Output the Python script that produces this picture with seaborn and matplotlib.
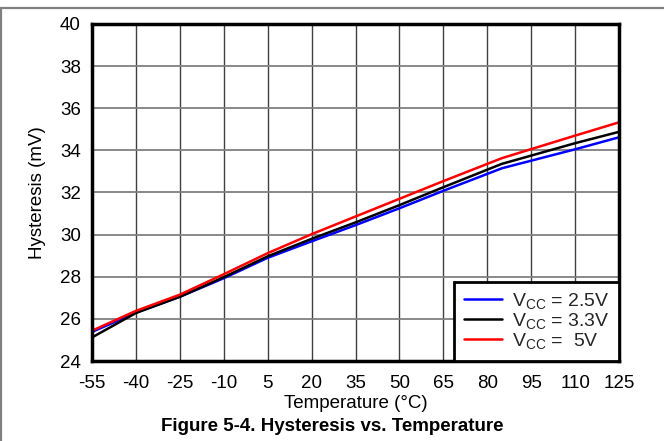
import seaborn as sns
import matplotlib.pyplot as plt
import matplotlib.lines as mlines
import pandas as pd

# values
temps = [-55, -40, -25, -10, 5, 20, 35, 50, 65, 85, 110, 125]
hyst_25 = [25.38, 26.30, 27.05, 27.93, 28.90, 29.68, 30.45, 31.25, 32.08, 33.15, 34.05, 34.62]
hyst_33 = [25.12, 26.28, 27.05, 27.98, 28.97, 29.80, 30.58, 31.40, 32.25, 33.36, 34.34, 34.88]
hyst_50 = [25.44, 26.38, 27.15, 28.12, 29.12, 30.02, 30.86, 31.70, 32.54, 33.63, 34.70, 35.33]
labels = [r"V$_{\mathregular{CC}}$ = 2.5V", r"V$_{\mathregular{CC}}$ = 3.3V", r"V$_{\mathregular{CC}}$ =  5V"]
xticks = list(range(-55, 126, 15))
yticks = list(range(24, 41, 2))

rows = []
for lab, vals in zip(labels, [hyst_25, hyst_33, hyst_50]):
    for t, v in zip(temps, vals):
        rows.append({"Temperature": t, "Hysteresis": v, "Supply": lab})
df = pd.DataFrame(rows)

sns.set_theme(style="white")
plt.rcParams['font.family'] = ['Liberation Sans', 'DejaVu Sans']
plt.rcParams['mathtext.fontset'] = 'custom'
plt.rcParams['mathtext.rm'] = 'Liberation Sans'
plt.rcParams['mathtext.it'] = 'Liberation Sans'
plt.rcParams['axes.unicode_minus'] = False

fig = plt.figure(figsize=(6.64, 4.41), dpi=100)
ax = fig.add_axes([0.1386, 0.1814, 0.7936, 0.7642])

palette = {labels[0]: "#0000ff", labels[1]: "#000000", labels[2]: "#ff0000"}
sns.lineplot(data=df, x="Temperature", y="Hysteresis", hue="Supply",
             palette=palette, linewidth=1.8, ax=ax, legend=False, zorder=3)

ax.set_xlim(-55, 125)
ax.set_ylim(24, 40)
ax.set_xticks(xticks)
ax.set_yticks(yticks)
ax.tick_params(axis="both", length=0, labelsize=13.5, colors="black")
ax.tick_params(axis="x", pad=10)
ax.tick_params(axis="y", pad=8)
ax.grid(True, axis="y", color="#808080", linewidth=1.3)
ax.grid(True, axis="x", color="#404040", linewidth=1.0)
for s in ax.spines.values():
    s.set_color("black")
    s.set_linewidth(2.5)
    s.set_zorder(5)

ax.set_xlabel("Temperature (°C)", fontsize=13.5, labelpad=2, color="black")
ax.set_ylabel("Hysteresis (mV)", fontsize=13.5, labelpad=10, color="black")

handles = [mlines.Line2D([], [], color=palette[l], linewidth=1.8) for l in labels]
leg = ax.legend(handles, labels, loc="lower right", bbox_to_anchor=(1, 0),
                borderaxespad=0, fancybox=False, framealpha=1, fontsize=14,
                handlelength=1.95, handletextpad=0.5, labelspacing=0.0,
                borderpad=0.5, edgecolor="black")
leg.get_frame().set_linewidth(2.0)
leg.set_zorder(6)

fig.text(0.5, 0.034, "Figure 5-4. Hysteresis vs. Temperature", ha="center",
         va="center", fontsize=13.5, fontweight="bold", color="black")

# gray frame lines at top and left of the figure
fig.add_artist(mlines.Line2D([0, 1], [1 - 7.5 / 441] * 2, color="#808080", linewidth=1.6))
fig.add_artist(mlines.Line2D([1.0 / 664] * 2, [0, 1 - 7.5 / 441], color="#808080", linewidth=1.6))

fig.savefig("out.png", dpi=100)
